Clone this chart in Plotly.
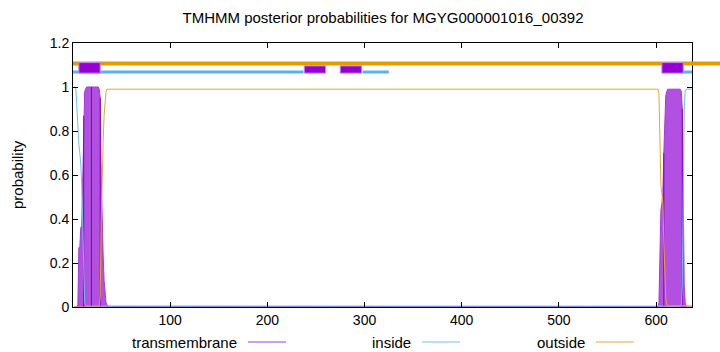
import plotly.graph_objects as go

# ---------------- data ----------------
seq_len = 637
# residues 1..40
left_inside = [1.0, 1.0, 0.99, 0.9, 0.82, 0.74, 0.70, 0.65, 0.55, 0.35, 0.12, 0.02, 0.01] + [0.004] * 27
left_tm = [0, 0, 0, 0, 0.01, 0.27, 0.27, 0.36, 0.37, 0.6, 0.87, 0.98, 0.99] + [1.0] * 13 + \
          [0.99, 0.95, 0.6, 0.38, 0.24, 0.12, 0.05, 0.02, 0.01] + [0.003] * 5
left_outside = [0] * 26 + [0.01, 0.05, 0.38, 0.6, 0.75, 0.87, 0.95, 0.98, 0.99] + [0.99] * 5
# residues 41..595 (flat region)
mid_inside = [0.004] * 555
mid_tm = [0.002] * 555
mid_outside = [0.99] * 555
# residues 596..637
right_inside = [0.004] * 31 + [0.1, 0.5, 0.9, 0.98] + [0.99] * 7
right_tm = [0.002] * 7 + [0.02, 0.22, 0.44, 0.47, 0.52, 0.7, 0.88, 0.96, 0.98] + [0.99] * 14 + \
           [0.98, 0.9, 0.5, 0.1, 0.02] + [0.0] * 7
right_outside = [0.99] * 7 + [0.97, 0.75, 0.55, 0.52, 0.47, 0.3, 0.12, 0.04, 0.01] + [0.005] * 26

residues = list(range(1, seq_len + 1))
inside = left_inside + mid_inside + right_inside
tm = left_tm + mid_tm + right_tm
outside = left_outside + mid_outside + right_outside

# residues where the darker impulse lines are visible inside the TM peaks
dark_impulse_residues = [11, 19, 28, 608, 627]

# top topology bars (residue ranges)
inside_bar_segments = [(0, 237), (298, 325), (628, 637)]
tm_boxes_tall = [(6, 28), (606, 628)]
tm_boxes_short = [(238, 260), (275, 297)]

x_ticks = [100, 200, 300, 400, 500, 600]
y_ticks = [0, 0.2, 0.4, 0.6, 0.8, 1.0, 1.2]
y_tick_text = ["0", "0.2", "0.4", "0.6", "0.8", "1", "1.2"]
legend_names = ["transmembrane", "inside", "outside"]

# ---------------- style ----------------
C_TM_FILL = "rgba(165,50,220,0.85)"
C_TM_LINE = "#a23cd8"
C_TM_DARK = "#8400c4"
C_IN = "#6fc0ec"
C_OUT = "#eba52a"
C_OUT_BAR = "#e39c00"
C_IN_BAR = "#56b4e9"
C_BOX = "#9400d3"
C_BOX_EDGE = "#c48ae6"

W, H = 720, 352
L, R, T, B = 73, 692, 43, 307
def px_x(p):
    return (p - L) / (R - L)
def px_y(p):
    return (B - p) / (B - T)

fig = go.Figure()
fig.add_trace(go.Scatter(x=residues, y=tm, mode="lines", fill="tozeroy",
                         fillcolor=C_TM_FILL, line=dict(color=C_TM_LINE, width=1),
                         name=legend_names[0], showlegend=False))
imp_x, imp_y = [], []
for r in dark_impulse_residues:
    imp_x += [r, r, None]
    imp_y += [0, tm[r - 1], None]
fig.add_trace(go.Scatter(x=imp_x, y=imp_y, mode="lines", line=dict(color=C_TM_DARK, width=1),
                         showlegend=False, hoverinfo="skip"))
fig.add_trace(go.Scatter(x=residues, y=inside, mode="lines",
                         line=dict(color=C_IN, width=1), name=legend_names[1], showlegend=False))
fig.add_trace(go.Scatter(x=residues, y=outside, mode="lines",
                         line=dict(color=C_OUT, width=1), name=legend_names[2], showlegend=False))

shapes = []
# outside bar extends to the right edge of the image
shapes.append(dict(type="line", xref="paper", yref="y", x0=0, x1=px_x(W + 2), y0=1.107, y1=1.107,
                   line=dict(color=C_OUT_BAR, width=4), layer="above"))
for a, b in inside_bar_segments:
    shapes.append(dict(type="line", xref="x", yref="y", x0=a, x1=b, y0=1.068, y1=1.068,
                       line=dict(color=C_IN_BAR, width=3), layer="above"))
for a, b in tm_boxes_tall:
    shapes.append(dict(type="rect", xref="x", yref="y", x0=a, x1=b, y0=1.063, y1=1.111,
                       fillcolor=C_BOX, line=dict(color=C_BOX_EDGE, width=1), layer="above"))
for a, b in tm_boxes_short:
    shapes.append(dict(type="rect", xref="x", yref="y", x0=a, x1=b, y0=1.063, y1=1.096,
                       fillcolor=C_BOX, line=dict(color=C_BOX_EDGE, width=1), layer="above"))

# legend (gnuplot style: text then sample line)
leg_text_right = [238.5, 412.5, 586.5]
leg_line = [(248, 286), (422, 460), (596, 634)]
leg_colors = [C_TM_LINE, C_IN, C_OUT]
annotations = []
ly = 342
for name, tr, (l0, l1), col in zip(legend_names, leg_text_right, leg_line, leg_colors):
    annotations.append(dict(text=name, xref="paper", yref="paper", x=px_x(tr), y=px_y(ly),
                            xanchor="right", yanchor="middle", showarrow=False,
                            font=dict(size=15, color="black")))
    shapes.append(dict(type="line", xref="paper", yref="paper", x0=px_x(l0), x1=px_x(l1),
                       y0=px_y(ly), y1=px_y(ly), line=dict(color=col, width=1)))

annotations.append(dict(text="probability", xref="paper", yref="paper", x=px_x(17), y=0.5,
                        textangle=-90, xanchor="center", yanchor="middle", showarrow=False,
                        font=dict(size=15, color="black")))

fig.update_layout(
    width=W, height=H,
    margin=dict(l=L, r=W - R, t=T, b=H - B, pad=0),
    paper_bgcolor="white", plot_bgcolor="white",
    font=dict(family="Liberation Sans, Arial, sans-serif", size=14, color="black"),
    title=dict(text="TMHMM posterior probabilities for MGYG000001016_00392",
               x=383 / W, xanchor="center",
               y=1 - 18 / H, yanchor="middle", font=dict(size=15)),
    shapes=shapes, annotations=annotations, showlegend=False,
    xaxis=dict(range=[0, seq_len], tickvals=x_ticks, ticks="inside", ticklen=5,
               showline=True, linecolor="black", linewidth=1, mirror="allticks",
               showgrid=False, zeroline=False, tickcolor="black"),
    yaxis=dict(range=[0, 1.2], tickvals=y_ticks, ticktext=y_tick_text, ticks="inside", ticklen=5,
               showline=True, linecolor="black", linewidth=1, mirror="allticks",
               showgrid=False, zeroline=False, tickcolor="black"),
)

fig.write_html("out.html")
